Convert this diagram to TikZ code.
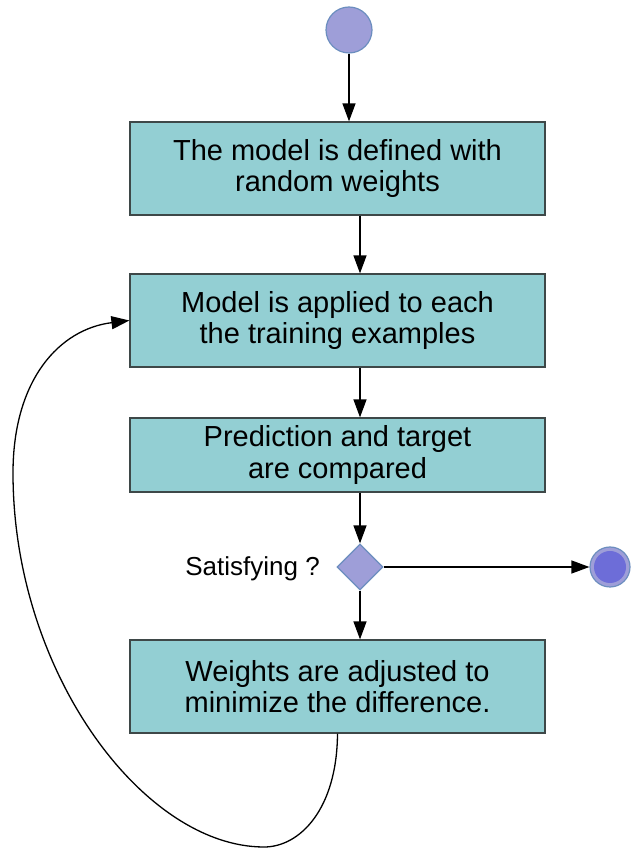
\documentclass[tikz,border=0pt]{standalone}
\usepackage{fontspec}
\setmainfont{Liberation Sans}
\usetikzlibrary{arrows.meta,shapes.geometric}
\definecolor{boxfill}{RGB}{147,207,211}
\definecolor{boxline}{RGB}{62,72,72}
\definecolor{dotfill}{RGB}{158,158,216}
\definecolor{dotline}{RGB}{108,142,191}
\definecolor{enddot}{RGB}{109,109,216}

\begin{document}
\begin{tikzpicture}[x=1pt, y=1pt,
    stepbox/.style={draw=boxline, line width=1.2pt, fill=boxfill, minimum width=415pt,
      minimum height=93pt, align=center, inner sep=0pt, font=\fontsize{29}{31.5}\selectfont},
    flow/.style={-{Triangle[length=18pt,width=13pt]}, line width=1.3pt}]
      \useasboundingbox (0,0) rectangle (630,849);
      % start dot
      \node[circle, draw=dotline, line width=1.2pt, fill=dotfill, minimum size=46pt, inner sep=0pt] (st) at (349,819) {};
      % the four steps
      \node[stepbox] (b1) at (337.5,680.5) {The model is defined with\\random weights};
      \node[stepbox] (b2) at (337.5,528.5) {Model is applied to each\\the training examples};
      \node[stepbox, minimum height=74pt] (b3) at (337.5,394) {Prediction and target\\are compared};
      \node[stepbox] (b4) at (337.5,162.5) {Weights are adjusted to\\minimize the difference.};
      % decision
      \node[diamond, draw=dotline, line width=1.2pt, fill=dotfill, minimum width=46pt, minimum height=46pt, inner sep=0pt] (dia) at (360,282) {};
      \node[anchor=base east, inner sep=0pt, font=\fontsize{26}{28}\selectfont] (sat) at (320,273) {Satisfying ?};
      % end dot
      \node[circle, draw=dotline, line width=1.2pt, fill=dotfill, minimum size=40pt, inner sep=0pt] (en) at (610,282) {};
      \fill[enddot] (en) circle (16);
      % arrows down the chain
      \draw[flow] (st) -- (st |- b1.north);
      \draw[flow] (b1.south -| dia) -- (b2.north -| dia);
      \draw[flow] (b2.south -| dia) -- (b3.north -| dia);
      \draw[flow] (b3.south -| dia) -- (dia);
      \draw[flow] (dia) -- (b4.north -| dia);
      \draw[flow] (dia) -- (en);
      % loop back round the left
      \draw[flow] (b4.south) .. controls (337,40) and (300,2) .. (264,2)
        .. controls (144,2) and (13,176) .. (13,376)
        .. controls (13,470) and (60,520) .. (b2.west);
\end{tikzpicture}
\end{document}
